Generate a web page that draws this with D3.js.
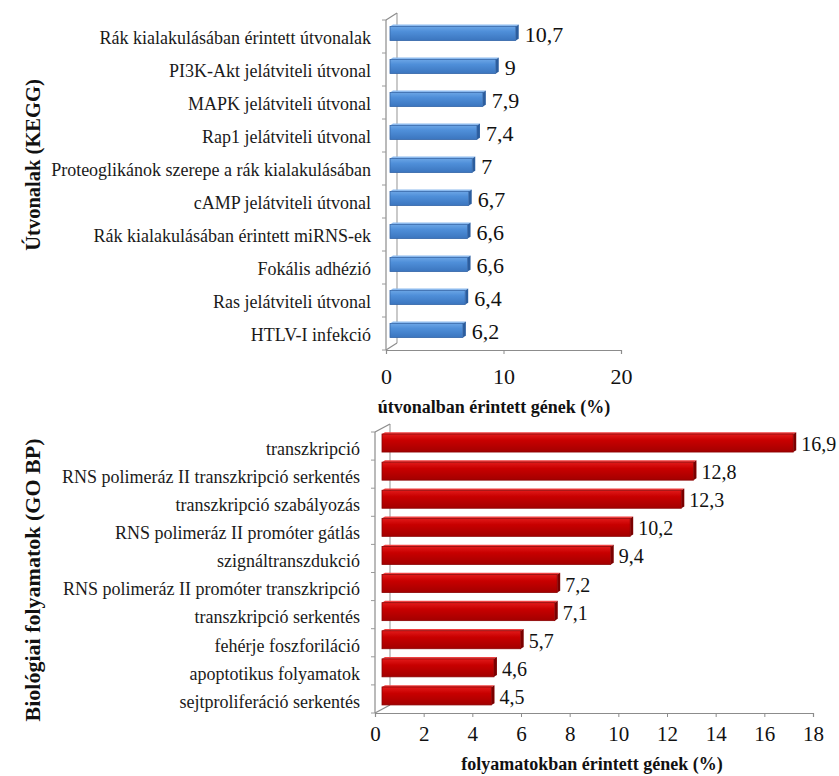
<!DOCTYPE html>
<html>
<head>
<meta charset="utf-8">
<script src="https://cdn.jsdelivr.net/npm/d3@7"></script>
<style>
  html, body { margin: 0; padding: 0; background: #fff; }
</style>
</head>
<body>
<svg id="chart" width="839" height="776"></svg>
<script>
// KEGG pathways
const keggLabels = [
  "Rák kialakulásában érintett útvonalak",
  "PI3K-Akt jelátviteli útvonal",
  "MAPK jelátviteli útvonal",
  "Rap1 jelátviteli útvonal",
  "Proteoglikánok szerepe a rák kialakulásában",
  "cAMP jelátviteli útvonal",
  "Rák kialakulásában érintett miRNS-ek",
  "Fokális adhézió",
  "Ras jelátviteli útvonal",
  "HTLV-I infekció"
];
const keggValues = [10.7, 9, 7.9, 7.4, 7, 6.7, 6.6, 6.6, 6.4, 6.2];
const keggTicks = [0, 10, 20];

// GO biological processes
const goLabels = [
  "transzkripció",
  "RNS polimeráz II transzkripció serkentés",
  "transzkripció szabályozás",
  "RNS polimeráz II promóter gátlás",
  "szignáltranszdukció",
  "RNS polimeráz II promóter transzkripció",
  "transzkripció serkentés",
  "fehérje foszforiláció",
  "apoptotikus folyamatok",
  "sejtproliferáció serkentés"
];
const goValues = [16.9, 12.8, 12.3, 10.2, 9.4, 7.2, 7.1, 5.7, 4.6, 4.5];
const goTicks = [0, 2, 4, 6, 8, 10, 12, 14, 16, 18];

const SERIF = '"Liberation Serif"';
const svg = d3.select("#chart");
const defs = svg.append("defs");

function gradient(id, c1, c2, c3) {
  const g = defs.append("linearGradient").attr("id", id)
    .attr("x1", 0).attr("y1", 0).attr("x2", 0).attr("y2", 1);
  g.append("stop").attr("offset", "0%").attr("stop-color", c1);
  g.append("stop").attr("offset", "35%").attr("stop-color", c2);
  g.append("stop").attr("offset", "100%").attr("stop-color", c3);
}
gradient("blueFace", "#6ca6e6", "#4f8fd9", "#3b75be");
gradient("redFace", "#e21a1a", "#c80000", "#a30000");

const fmt = v => d3.format("~g")(v).replace(".", ",");

function serifText(sel, size, weight) {
  sel.style("font-family", SERIF).style("font-size", size + "px");
  if (weight) sel.style("font-weight", weight);
  return sel;
}

function drawPanel(cfg) {
  const g = svg.append("g");
  const x = d3.scaleLinear().domain(cfg.domain).range([cfg.left, cfg.right]);
  const y = d3.scaleBand().domain(cfg.labels).range([cfg.top, cfg.bottom]).paddingInner(0).paddingOuter(0);
  const [dx, dy] = cfg.depth;

  // 3D frame: back wall edge, front axis, floor
  const frame = g.append("g").attr("fill", "none");
  frame.append("line")
    .attr("x1", cfg.left + dx).attr("y1", cfg.top - dy)
    .attr("x2", cfg.left + dx).attr("y2", cfg.bottom - dy)
    .attr("stroke", "#a6a6a6").attr("stroke-width", 1.2);
  frame.append("path")
    .attr("d", `M${cfg.left},${cfg.top}L${cfg.left + dx},${cfg.top - dy}`)
    .attr("stroke", "#8c8c8c").attr("stroke-width", 1.2);
  frame.append("path")
    .attr("d", `M${cfg.left},${cfg.bottom}L${cfg.left + dx},${cfg.bottom - dy}`)
    .attr("stroke", "#8c8c8c").attr("stroke-width", 1.2);
  frame.append("line")
    .attr("x1", cfg.left).attr("y1", cfg.top)
    .attr("x2", cfg.left).attr("y2", cfg.bottom)
    .attr("stroke", "#8c8c8c").attr("stroke-width", 1.2);

  // category tick marks at band boundaries
  const bounds = cfg.labels.map(l => y(l)).concat([cfg.bottom]);
  frame.selectAll(".ctick").data(bounds).join("line")
    .attr("x1", cfg.left - 4).attr("x2", cfg.left)
    .attr("y1", d => d).attr("y2", d => d)
    .attr("stroke", "#9a9a9a").attr("stroke-width", 1);

  // value axis along the floor
  const xAxis = d3.axisBottom(x).tickValues(cfg.ticks).tickSize(4).tickPadding(cfg.tickPad)
    .tickFormat(d3.format("d"));
  const ax = g.append("g").attr("transform", `translate(0,${cfg.bottom})`).call(xAxis);
  ax.attr("font-family", null).attr("font-size", null);
  ax.select(".domain").attr("stroke", "#8c8c8c").attr("stroke-width", 1.2);
  ax.selectAll(".tick line").attr("stroke", "#8c8c8c");
  serifText(ax.selectAll(".tick text"), cfg.tickFont).attr("fill", "#111");

  // category labels
  const yAxis = d3.axisLeft(y).tickSize(0).tickPadding(cfg.left - cfg.labelRight);
  const ay = g.append("g").attr("transform", `translate(${cfg.left},${cfg.labelShift})`).call(yAxis);
  ay.attr("font-family", null).attr("font-size", null);
  ay.select(".domain").remove();
  serifText(ay.selectAll(".tick text"), cfg.labelFont).attr("fill", "#1a1a1a");

  // bars (front face, top face, end face) with value labels
  const bh = y.bandwidth() * cfg.barFrac;
  const bx = cfg.barOffset[0], by = cfg.barOffset[1];
  const d = cfg.barDepth;
  const data = cfg.labels.map((l, i) => ({ l, v: cfg.values[i] }));
  const bars = g.append("g").selectAll("g").data(data).join("g");
  bars.each(function(p) {
    const s = d3.select(this);
    const x0 = x(0) + bx, x1 = x(p.v) + bx;
    const yt = y(p.l) + y.bandwidth() / 2 - bh / 2 + by, yb = yt + bh;
    s.append("path")
      .attr("d", `M${x0},${yt}L${x0 + d},${yt - d * 0.6}L${x1 + d},${yt - d * 0.6}L${x1},${yt}Z`)
      .attr("fill", cfg.topColor);
    s.append("path")
      .attr("d", `M${x1},${yt}L${x1 + d},${yt - d * 0.6}L${x1 + d},${yb - d * 0.6}L${x1},${yb}Z`)
      .attr("fill", cfg.sideColor);
    s.append("rect")
      .attr("x", x0).attr("y", yt).attr("width", x1 - x0).attr("height", bh)
      .attr("fill", cfg.face).attr("stroke", cfg.edge).attr("stroke-width", 0.8);
    serifText(s.append("text"), cfg.valueFont)
      .attr("x", x1 + d + cfg.valuePad).attr("y", yt + bh / 2 + cfg.valueDy)
      .attr("dominant-baseline", "central")
      .attr("fill", "#111")
      .text(fmt(p.v));
  });

  // axis titles
  serifText(g.append("text"), cfg.xTitleFont, "bold")
    .attr("x", cfg.xTitle[0]).attr("y", cfg.xTitle[1])
    .attr("text-anchor", "middle").attr("fill", "#111")
    .text(cfg.xTitleText);
  serifText(g.append("text"), cfg.yTitleFont, "bold")
    .attr("transform", `translate(${cfg.yTitle[0]},${cfg.yTitle[1]}) rotate(-90)`)
    .attr("text-anchor", "middle").attr("dominant-baseline", "central")
    .attr("fill", "#111")
    .text(cfg.yTitleText);
}

drawPanel({
  labels: keggLabels, values: keggValues, ticks: keggTicks,
  domain: [0, 20], left: 386, right: 621, top: 20, bottom: 350,
  depth: [11, 7], barOffset: [4, -3], barDepth: 3, barFrac: 0.43,
  face: "url(#blueFace)", edge: "#3567a8", topColor: "#8cbaee", sideColor: "#2b5d9e",
  labelRight: 371, labelShift: 1.5, labelFont: 18,
  tickFont: 22, tickPad: 14,
  valueFont: 22, valuePad: 6, valueDy: 1,
  xTitle: [494, 413], xTitleFont: 18, xTitleText: "útvonalban érintett gének (%)",
  yTitle: [33, 165], yTitleFont: 20.5, yTitleText: "Útvonalak (KEGG)"
});

drawPanel({
  labels: goLabels, values: goValues, ticks: goTicks,
  domain: [0, 18], left: 375, right: 813, top: 432, bottom: 713,
  depth: [15, 8], barOffset: [7, -3], barDepth: 3, barFrac: 0.64,
  face: "url(#redFace)", edge: "#8a0000", topColor: "#f04040", sideColor: "#7a0000",
  labelRight: 360, labelShift: 3, labelFont: 18,
  tickFont: 21, tickPad: 9,
  valueFont: 20, valuePad: 5, valueDy: 1,
  xTitle: [592, 770], xTitleFont: 18, xTitleText: "folyamatokban érintett gének (%)",
  yTitle: [32, 580], yTitleFont: 22, yTitleText: "Biológiai folyamatok (GO BP)"
});
</script>
</body>
</html>
